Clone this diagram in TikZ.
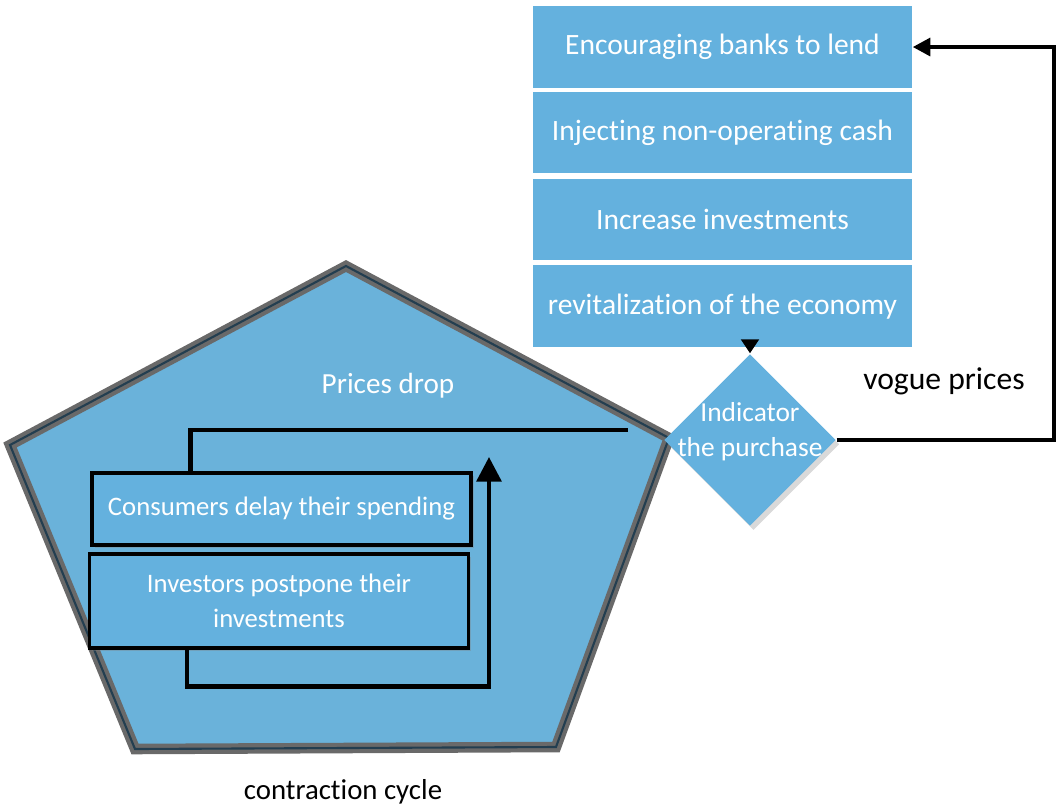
\documentclass[tikz,border=0pt]{standalone}
\usepackage{fontspec}
\setmainfont{Carlito}[RawFeature={-liga;-clig;-calt;-dlig}]
\usepackage{tikz}
\usetikzlibrary{shapes.geometric, arrows.meta, positioning, calc, shadows}
\definecolor{myblue}{RGB}{100,177,222}
\definecolor{mypent}{RGB}{106,178,218}
\definecolor{myrim}{RGB}{105,105,105}
\definecolor{myrimdark}{RGB}{35,62,80}
\tikzset{
  block/.style={rectangle, fill=myblue, text=white,
    minimum width=3.79cm, minimum height=0.815cm, inner sep=0pt,
    font=\fontsize{8.4}{10}\selectfont},
  cycleblock/.style={rectangle, draw=black, fill=myblue, text=white,
    minimum width=3.79cm, align=center, line width=0.9pt,
    font=\fontsize{7.6}{9.8}\selectfont,
    drop shadow={opacity=0.35, shadow xshift=0.8pt, shadow yshift=-0.8pt}},
  decision/.style={diamond, fill=myblue, inner sep=0pt,
    minimum width=1.72cm, minimum height=1.72cm,
    drop shadow={opacity=0.3, shadow xshift=1pt, shadow yshift=-1.2pt}},
  arrow/.style={-{Triangle[length=5pt, width=5pt]}, line width=1.2pt, color=black},
  line/.style={line width=1.2pt, color=black}
}

\begin{document}
\begin{tikzpicture}
  \useasboundingbox (0,0) rectangle (10.58,-8.07);

  % Contraction pentagon
  \coordinate (ptop) at (3.46,-2.66);
  \coordinate (pright) at (6.69,-4.38);
  \coordinate (pbr) at (5.56,-7.47);
  \coordinate (pbl) at (1.35,-7.49);
  \coordinate (pleft) at (0.10,-4.45);
  \draw[line width=3pt, draw=myrim, fill=mypent]
    (ptop) -- (pright) -- (pbr) -- (pbl) -- (pleft) -- cycle;
  \draw[line width=0.6pt, draw=myrimdark]
    (ptop) -- (pright) -- (pbr) -- (pbl) -- (pleft) -- cycle;

  % Policy stack
  \node[block] (banks) at (7.225,-0.47) {Encouraging banks to lend};
  \node[block, below=0.025cm of banks] (inject) {Injecting non-operating cash};
  \node[block, below=0.04cm of inject] (invest) {Increase investments};
  \node[block, below=0.04cm of invest] (revive) {revitalization of the economy};

  % Purchase indicator
  \node[decision] (indicator) at (7.50,-4.40) {};
  \node[text=white, align=center, font=\fontsize{7.8}{9.9}\selectfont]
    (indtext) at ([yshift=0.08cm]indicator.center) {Indicator\\the purchase};
  \node[font=\fontsize{9}{11}\selectfont] (vogue) at (9.44,-3.81) {vogue prices};

  % Cycle boxes
  \node[cycleblock, minimum height=0.72cm] (consumers) at (2.815,-5.09)
    {Consumers delay their spending};
  \node[cycleblock, minimum height=0.94cm] (investors) at (2.79,-6.01)
    {Investors postpone their\\investments};
  \node[text=white, font=\fontsize{8.3}{10}\selectfont] (drop) at (3.88,-3.86) {Prices drop};
  \node[font=\fontsize{8.2}{10}\selectfont] (cycle) at (3.43,-7.92) {contraction cycle};

  % Connectors
  \draw[arrow, -{Triangle[length=4pt, width=5pt]}]
    (indicator.north |- revive.south) -- (indicator.north);
  \draw[arrow] (indicator.east) -- ++(2.17,0) |- (banks.east);

  \coordinate (feed) at (6.28,-4.30);
  \draw[line] (feed) -| ([xshift=1cm]consumers.north west);
  \coordinate (rise) at (4.89,-4.57);
  \draw[arrow, -{Triangle[length=7pt, width=7pt]}]
    ([xshift=0.99cm]investors.south west) -- ++(0,-0.37) -| (rise);
\end{tikzpicture}
\end{document}
